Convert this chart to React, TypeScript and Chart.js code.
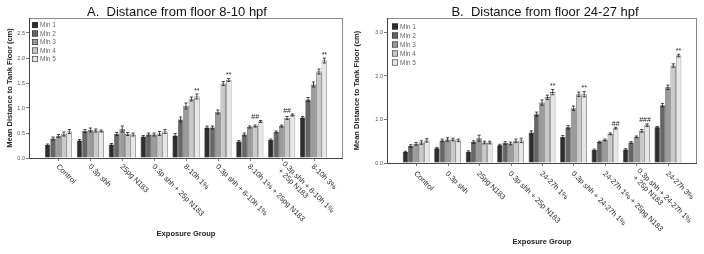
import React, { useEffect, useRef } from 'react';
import { Chart, registerables } from 'chart.js';

Chart.register(...registerables);

const FONT = '"Liberation Sans", Arial, Helvetica, sans-serif';

const seriesNames = ['Min 1', 'Min 2', 'Min 3', 'Min 4', 'Min 5'];
const seriesColors = ['#2e2e2e', '#666666', '#9b9b9b', '#c9c9c9', '#e7e7e7'];

const groupsA = [
  'Control',
  '0.3p shh',
  '25pg N183',
  '0.3p shh + 25p N183',
  '8-10h 1%',
  '0.3p shh + 8-10h 1%',
  '8-10h 1% + 25pg N183',
  '0.3p shh + 8-10h 1%\n+ 25p N183',
  '8-10h 3%',
];
const groupsB = [
  'Control',
  '0.3p shh',
  '25pg N183',
  '0.3p shh + 25p N183',
  '24-27h 1%',
  '0.3p shh + 24-27h 1%',
  '24-27h 1% + 25pg N183',
  '0.3p shh + 24-27h 1%\n+ 25p N183',
  '24-27h 3%',
];

// Panel A means (cm)
const a1 = [0.26, 0.35, 0.27, 0.43, 0.45, 0.61, 0.33, 0.36, 0.81];
const a2 = [0.39, 0.54, 0.48, 0.47, 0.77, 0.61, 0.47, 0.52, 1.17];
const a3 = [0.44, 0.56, 0.58, 0.47, 1.04, 0.92, 0.62, 0.64, 1.47];
const a4 = [0.48, 0.55, 0.48, 0.49, 1.18, 1.49, 0.64, 0.8, 1.73];
const a5 = [0.53, 0.54, 0.47, 0.53, 1.23, 1.56, 0.73, 0.86, 1.95];
// Panel A standard errors
const ae1 = [0.02, 0.02, 0.02, 0.02, 0.04, 0.03, 0.02, 0.02, 0.02];
const ae2 = [0.03, 0.03, 0.03, 0.03, 0.05, 0.03, 0.03, 0.02, 0.04];
const ae3 = [0.03, 0.04, 0.06, 0.03, 0.06, 0.04, 0.02, 0.02, 0.05];
const ae4 = [0.04, 0.03, 0.03, 0.04, 0.04, 0.04, 0.02, 0.03, 0.05];
const ae5 = [0.04, 0.02, 0.03, 0.04, 0.05, 0.03, 0.02, 0.02, 0.05];
const marksA = ['', '', '', '', '**', '**', '##', '##', '**'];
const markBarA = [0, 0, 0, 0, 4, 4, 3, 3, 4];

// Panel B means (cm)
const b1 = [0.25, 0.34, 0.26, 0.41, 0.7, 0.6, 0.3, 0.31, 0.82];
const b2 = [0.39, 0.52, 0.48, 0.46, 1.12, 0.82, 0.48, 0.47, 1.33];
const b3 = [0.44, 0.54, 0.57, 0.45, 1.39, 1.26, 0.53, 0.6, 1.74];
const b4 = [0.47, 0.54, 0.47, 0.51, 1.51, 1.58, 0.67, 0.74, 2.24];
const b5 = [0.52, 0.52, 0.47, 0.52, 1.63, 1.58, 0.8, 0.87, 2.47];
// Panel B standard errors
const be1 = [0.02, 0.02, 0.02, 0.02, 0.04, 0.03, 0.02, 0.02, 0.02];
const be2 = [0.03, 0.03, 0.03, 0.03, 0.05, 0.04, 0.02, 0.02, 0.04];
const be3 = [0.03, 0.04, 0.07, 0.03, 0.06, 0.05, 0.02, 0.02, 0.05];
const be4 = [0.04, 0.03, 0.03, 0.04, 0.05, 0.05, 0.02, 0.03, 0.04];
const be5 = [0.04, 0.03, 0.03, 0.05, 0.06, 0.06, 0.02, 0.03, 0.03];
const marksB = ['', '', '', '', '**', '**', '##', '###', '**'];
const markBarB = [0, 0, 0, 0, 4, 4, 4, 3.6, 4];

const yTicksA = [0, 0.5, 1, 1.5, 2, 2.5];
const yTicksB = [0, 1, 2, 3];

type PanelProps = {
  left: number;
  title: string;
  titleX: number;
  groups: string[];
  series: number[][];
  errors: number[][];
  marks: string[];
  markBar: number[];
  yMax: number;
  yTicks: number[];
  yW: number;
  padRight: number;
  padBottom: number;
  yTitleX: number;
  xTitleX: number;
  xTitleY: number;
  labelDy: number;
  legendX: number;
  legendY: number;
  legendSp: number;
};

function makePlugin(p: PanelProps) {
  return {
    id: 'panelDecor',
    afterDatasetsDraw(chart: any) {
      const ctx = chart.ctx;
      const ys = chart.scales.y;
      const ca = chart.chartArea;
      ctx.save();
      // error bars
      ctx.strokeStyle = '#1e1e1e';
      ctx.lineWidth = 0.8;
      p.series.forEach((vals, i) => {
        const meta = chart.getDatasetMeta(i);
        meta.data.forEach((el: any, j: number) => {
          const v = vals[j];
          const e = p.errors[i][j];
          const yt = ys.getPixelForValue(v + e);
          const yb = ys.getPixelForValue(v - e);
          ctx.beginPath();
          ctx.moveTo(el.x, yt);
          ctx.lineTo(el.x, yb);
          ctx.moveTo(el.x - 1.6, yt);
          ctx.lineTo(el.x + 1.6, yt);
          ctx.moveTo(el.x - 1.6, yb);
          ctx.lineTo(el.x + 1.6, yb);
          ctx.stroke();
        });
      });
      // frame
      ctx.lineWidth = 1;
      ctx.strokeStyle = '#8a8a8a';
      ctx.strokeRect(ca.left + 0.5, ca.top + 0.5, ca.right - ca.left - 1, ca.bottom - ca.top);
      ctx.strokeStyle = '#444';
      ctx.beginPath();
      ctx.moveTo(ca.left + 0.5, ca.top);
      ctx.lineTo(ca.left + 0.5, ca.bottom + 0.5);
      ctx.lineTo(ca.right, ca.bottom + 0.5);
      ctx.stroke();
      // x tick marks
      const xs = chart.scales.x;
      ctx.strokeStyle = '#555';
      ctx.lineWidth = 0.8;
      p.groups.forEach((_, j) => {
        const x = Math.round(xs.getPixelForValue(j)) + 0.5;
        ctx.beginPath();
        ctx.moveTo(x, ca.bottom);
        ctx.lineTo(x, ca.bottom + 3);
        ctx.stroke();
      });
      // significance marks
      ctx.fillStyle = '#222';
      ctx.font = `7px ${FONT}`;
      ctx.textAlign = 'center';
      ctx.textBaseline = 'alphabetic';
      p.marks.forEach((m, j) => {
        if (!m) return;
        let top = Infinity;
        p.series.forEach((vals, i) => {
          top = Math.min(top, ys.getPixelForValue(vals[j] + p.errors[i][j]));
        });
        const k = p.markBar[j];
        const k0 = Math.floor(k);
        const k1 = Math.min(4, k0 + 1);
        const f = k - k0;
        const x0 = chart.getDatasetMeta(k0).data[j].x;
        const x1 = chart.getDatasetMeta(k1).data[j].x;
        ctx.fillText(m, x0 + (x1 - x0) * f, top - 1.5);
      });
      ctx.restore();
    },
    afterDraw(chart: any) {
      const ctx = chart.ctx;
      const ca = chart.chartArea;
      const xs = chart.scales.x;
      ctx.save();
      // title
      ctx.fillStyle = '#111';
      ctx.font = `13px ${FONT}`;
      ctx.textAlign = 'center';
      ctx.textBaseline = 'alphabetic';
      ctx.fillText(p.title, p.titleX, 15.5);
      // y title
      ctx.save();
      ctx.translate(p.yTitleX, (ca.top + ca.bottom) / 2);
      ctx.rotate(-Math.PI / 2);
      ctx.font = `bold 7.5px ${FONT}`;
      ctx.fillStyle = '#222';
      ctx.textBaseline = 'middle';
      ctx.fillText('Mean Distance to Tank Floor (cm)', 0, 0);
      ctx.restore();
      // x title
      ctx.font = `bold 7.5px ${FONT}`;
      ctx.fillStyle = '#222';
      ctx.textBaseline = 'middle';
      ctx.fillText('Exposure Group', p.xTitleX, p.xTitleY);
      // rotated category labels
      ctx.font = `7.5px ${FONT}`;
      ctx.fillStyle = '#2a2a2a';
      ctx.textAlign = 'left';
      p.groups.forEach((g, j) => {
        const lines = g.split('\n');
        const cx = xs.getPixelForValue(j) - 1;
        ctx.save();
        ctx.translate(cx, ca.bottom + p.labelDy);
        ctx.rotate(Math.PI / 4);
        const lh = 8;
        lines.forEach((ln, li) => {
          const off = (li - (lines.length - 1) / 2) * lh;
          ctx.fillText(ln, li === 0 ? 0 : 2, off);
        });
        ctx.restore();
      });
      // legend
      ctx.font = `6.5px ${FONT}`;
      seriesNames.forEach((n, i) => {
        const y = p.legendY + i * p.legendSp;
        ctx.fillStyle = seriesColors[i];
        ctx.fillRect(p.legendX, y - 3, 6, 6);
        ctx.strokeStyle = '#333';
        ctx.lineWidth = 0.6;
        ctx.strokeRect(p.legendX + 0.3, y - 2.7, 5.4, 5.4);
        ctx.fillStyle = '#666';
        ctx.textAlign = 'left';
        ctx.textBaseline = 'middle';
        ctx.fillText(n, p.legendX + 8, y + 0.5);
      });
      ctx.restore();
    },
  };
}

function Panel(p: PanelProps) {
  const ref = useRef<HTMLCanvasElement | null>(null);
  useEffect(() => {
    if (!ref.current) return;
    const n = p.groups.length;
    const chart = new Chart(ref.current, {
      type: 'bar',
      data: {
        datasets: p.series.map((vals, i) => ({
          label: seriesNames[i],
          data: vals.map((v, j) => ({ x: j, y: v })),
          backgroundColor: seriesColors[i],
          borderColor: '#262626',
          borderWidth: 0.6,
          categoryPercentage: 0.85,
          barPercentage: 1.0,
        })),
      },
      options: {
        animation: false,
        responsive: false,
        maintainAspectRatio: false,
        layout: { padding: { left: 0, right: p.padRight, top: 18, bottom: p.padBottom } },
        plugins: {
          legend: { display: false },
          title: { display: false },
          tooltip: { enabled: false },
        },
        scales: {
          x: {
            type: 'linear',
            min: -0.925,
            max: n - 1 + 0.925,
            offset: false,
            ticks: { display: false },
            grid: { display: false, offset: false },
            border: { display: false },
            afterFit: (s: any) => {
              s.height = 0;
            },
          },
          y: {
            type: 'linear',
            min: 0,
            max: p.yMax,
            afterBuildTicks: (s: any) => {
              s.ticks = p.yTicks.map((v) => ({ value: v }));
            },
            ticks: {
              font: { size: 5.5, family: FONT },
              color: '#555',
              padding: 1,
              callback: (v: any) => Number(v).toFixed(1),
            },
            grid: {
              drawOnChartArea: false,
              drawTicks: true,
              tickLength: 3,
              color: '#555',
              lineWidth: 0.8,
            },
            border: { display: false },
            afterFit: (s: any) => {
              s.width = p.yW;
            },
          },
        },
      },
      plugins: [makePlugin(p)],
    } as any);
    return () => chart.destroy();
  }, []);
  return (
    <canvas
      ref={ref}
      width={352}
      height={254}
      style={{ position: 'absolute', left: p.left, top: 0, width: 352, height: 254 }}
    />
  );
}

export default function App() {
  return (
    <div
      style={{
        position: 'fixed',
        left: 0,
        top: 0,
        width: 704,
        height: 254,
        background: '#fff',
        overflow: 'hidden',
      }}
    >
      <Panel
        left={0}
        title="A.  Distance from floor 8-10 hpf"
        titleX={177}
        groups={groupsA}
        series={[a1, a2, a3, a4, a5]}
        errors={[ae1, ae2, ae3, ae4, ae5]}
        marks={marksA}
        markBar={markBarA}
        yMax={2.8}
        yTicks={yTicksA}
        yW={29}
        padRight={9}
        padBottom={96}
        yTitleX={10}
        xTitleX={186}
        xTitleY={234}
        labelDy={7.5}
        legendX={32}
        legendY={25}
        legendSp={8.5}
      />
      <Panel
        left={352}
        title="B.  Distance from floor 24-27 hpf"
        titleX={193}
        groups={groupsB}
        series={[b1, b2, b3, b4, b5]}
        errors={[be1, be2, be3, be4, be5]}
        marks={marksB}
        markBar={markBarB}
        yMax={3.333}
        yTicks={yTicksB}
        yW={35}
        padRight={7}
        padBottom={91}
        yTitleX={5}
        xTitleX={190}
        xTitleY={242}
        labelDy={9.5}
        legendX={40}
        legendY={26.5}
        legendSp={9}
      />
    </div>
  );
}
